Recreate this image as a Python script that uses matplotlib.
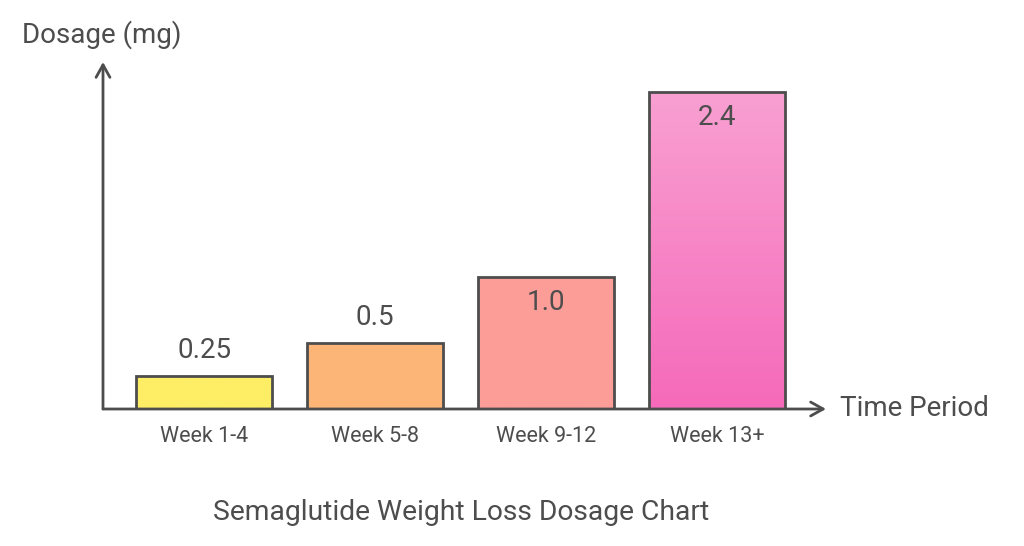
import matplotlib.pyplot as plt
import numpy as np
from matplotlib.colors import LinearSegmentedColormap

plt.rcParams['font.family'] = ['Roboto', 'DejaVu Sans']
INK = '#4d4d4d'

periods = ['Week 1-4', 'Week 5-8', 'Week 9-12', 'Week 13+']
dosage = [0.25, 0.5, 1.0, 2.4]
labels = ['0.25', '0.5', '1.0', '2.4']
top_colours = ['#fdee66', '#fdb577', '#fd9d98', '#f9a0d2']
bottom_colours = ['#fdee66', '#fdb577', '#fd9d98', '#f56aba']
label_inside = [False, False, True, True]

fig = plt.figure(figsize=(10.24, 5.46), dpi=100)
ax = fig.add_axes([103 / 1024, (546 - 409) / 546, 723 / 1024, 347 / 546])
ax.axis('off')

x = np.arange(len(periods))
width = 0.795
bars = ax.bar(x, dosage, width=width, color='none', edgecolor=INK, linewidth=2, zorder=3)

# gradient fill inside each bar
for bar, c_top, c_bot in zip(bars, top_colours, bottom_colours):
    cmap = LinearSegmentedColormap.from_list('g', [c_bot, c_top])
    grad = np.linspace(0, 1, 256).reshape(-1, 1)
    x0, y0 = bar.get_x(), bar.get_y()
    img = ax.imshow(grad, cmap=cmap, origin='lower', aspect='auto',
                    extent=[x0, x0 + bar.get_width(), y0, y0 + bar.get_height()], zorder=2)
    img.set_clip_path(bar)

ax.set_xlim(-0.591, 3.637)
ax.set_ylim(0, 2.629)

for xi, val, lab, inside in zip(x, dosage, labels, label_inside):
    off = -25 if inside else 26
    ax.annotate(lab, (xi, val), xytext=(0, off), textcoords='offset pixels',
                ha='center', va='center', fontsize=20, color=INK, zorder=4)

# axes with open arrow heads
arrow = dict(arrowstyle='->,head_length=0.9,head_width=0.5', color=INK, lw=2,
             shrinkA=0, shrinkB=0)
ax.annotate('', xy=(0, 1), xytext=(0, 0), xycoords='axes fraction', arrowprops=arrow)
ax.annotate('', xy=(1, 0), xytext=(0, 0), xycoords='axes fraction', arrowprops=arrow)

for xi, p in zip(x, periods):
    ax.annotate(p, (xi, 0), xytext=(0, -28), textcoords='offset pixels',
                ha='center', va='center', fontsize=15.5, color=INK)

fig.text(22 / 1024, 1 - 35 / 546, 'Dosage (mg)', ha='left', va='center', fontsize=20, color=INK)
fig.text(840 / 1024, 1 - 409 / 546, 'Time Period', ha='left', va='center', fontsize=20, color=INK)
fig.text(461 / 1024, 1 - 512 / 546, 'Semaglutide Weight Loss Dosage Chart', ha='center', va='center',
         fontsize=20.3, color=INK)

fig.savefig('out.png', dpi=100)
